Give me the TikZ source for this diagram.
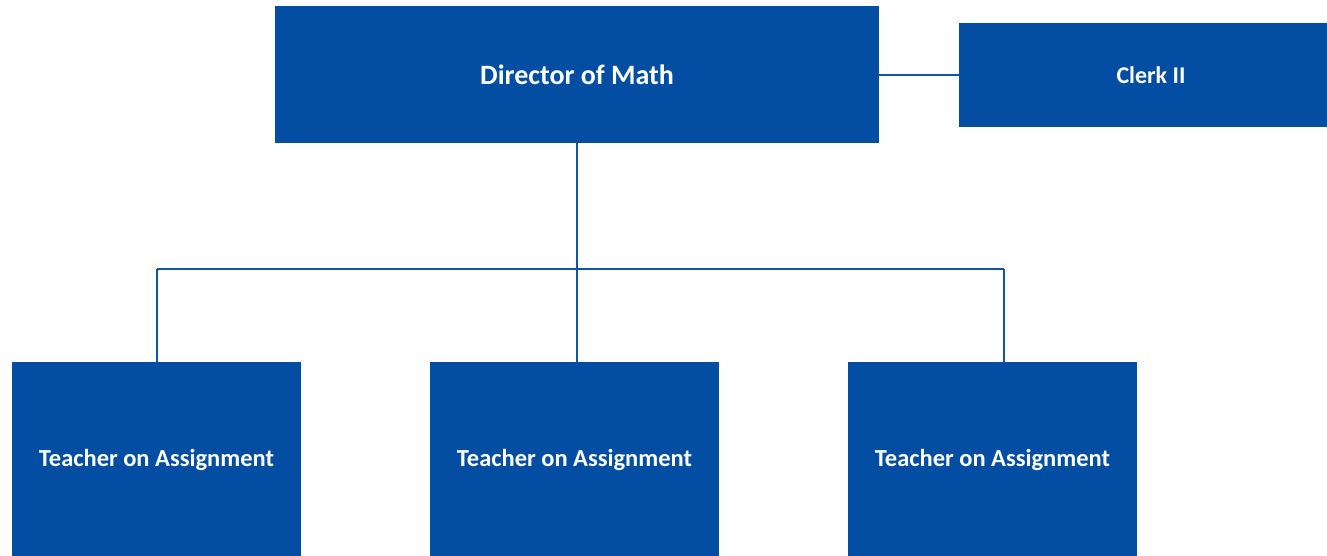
\documentclass[tikz,border=0pt]{standalone}
\usepackage{fontspec}
\setmainfont{Carlito}
\definecolor{boxblue}{RGB}{3,78,162}
\definecolor{lineblue}{RGB}{20,84,164}
\begin{document}
\begin{tikzpicture}[x=1pt,y=-1pt,
  orgbox/.style={fill=boxblue,draw=none,inner sep=0pt,text=white,font=\bfseries,align=center},
  conn/.style={draw=lineblue,line width=2pt}]
\useasboundingbox (0,0) rectangle (1327,556);
\clip (0,0) rectangle (1327,556);
\node[orgbox,minimum width=604pt,minimum height=137pt,font=\fontsize{28}{32}\selectfont\bfseries] (dir) at (577,74.5) {Director of Math};
\node[orgbox,minimum width=384pt,minimum height=104pt,font=\fontsize{24}{28}\selectfont\bfseries] (clerk) at (1151,75) {Clerk II};
\node[orgbox,minimum width=289pt,minimum height=196pt,font=\fontsize{24.5}{28}\selectfont\bfseries] (t1) at (156.5,460) {Teacher on Assignment};
\node[orgbox,minimum width=289pt,minimum height=196pt,font=\fontsize{24.5}{28}\selectfont\bfseries] (t2) at (574.5,460) {Teacher on Assignment};
\node[orgbox,minimum width=289pt,minimum height=196pt,font=\fontsize{24.5}{28}\selectfont\bfseries] (t3) at (992.5,460) {Teacher on Assignment};
\coordinate (hub) at (577,269);
\coordinate (hl) at (157,269);
\coordinate (hr) at (1004,269);
\draw[conn] (dir.east |- clerk.west) -- (clerk.west);
\draw[conn] (dir.south) -- (hub);
\draw[conn] (hl) -- (hr);
\draw[conn] (hl) -- (hl |- t1.north);
\draw[conn] (hub) -- (hub |- t2.north);
\draw[conn] (hr) -- (hr |- t3.north);
\end{tikzpicture}
\end{document}
